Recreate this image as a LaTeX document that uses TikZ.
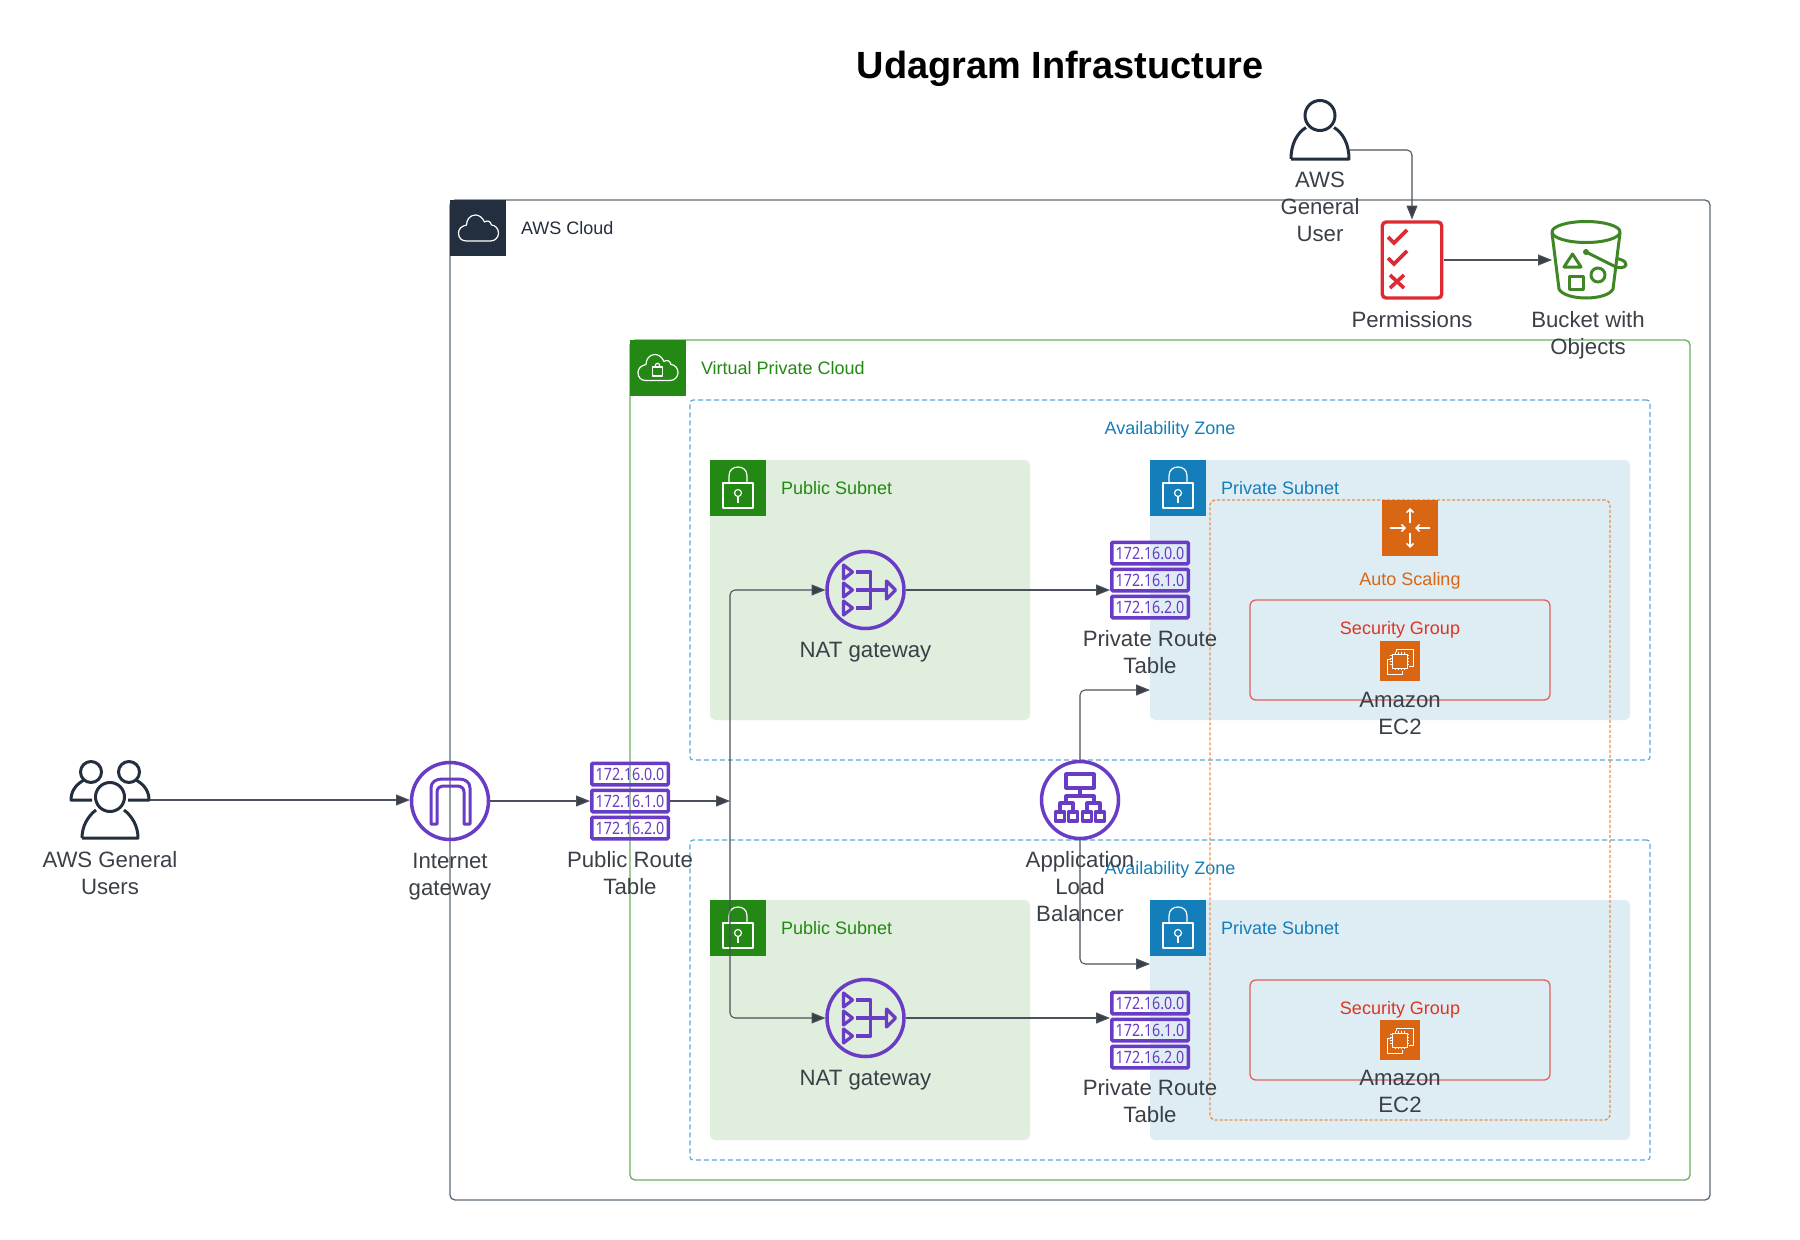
\documentclass[tikz,border=0pt]{standalone}
\usepackage{fontspec}
\usepackage{graphicx}
\setmainfont{Liberation Sans}
\newfontfamily\rtfont{Noto Sans}
\usetikzlibrary{arrows.meta,calc}
\definecolor{inkdark}{HTML}{232F3E}
\definecolor{labelgray}{HTML}{3B4048}
\definecolor{connline}{HTML}{4A515B}
\definecolor{awsline}{HTML}{5F6A76}
\definecolor{vpcline}{HTML}{6DB25F}
\definecolor{awsgreen}{HTML}{248814}
\definecolor{awsblue}{HTML}{147EBA}
\definecolor{azline}{HTML}{5AA9D6}
\definecolor{pubfill}{HTML}{E0EEDD}
\definecolor{privfill}{HTML}{DEECF4}
\definecolor{awsorange}{HTML}{D86613}
\definecolor{asline}{HTML}{E8904F}
\definecolor{sgline}{HTML}{E2625A}
\definecolor{sgtext}{HTML}{DD3522}
\definecolor{purp}{HTML}{693CC5}
\definecolor{permred}{HTML}{DD2A33}
\definecolor{bucketgreen}{HTML}{3F8624}
\tikzset{
  bigtext/.style={font=\fontsize{22.2}{27}\selectfont,text=labelgray,align=center,inner sep=0pt,outer sep=0pt,anchor=north},
  smalltext/.style={font=\fontsize{18}{21}\selectfont,inner sep=0pt,outer sep=0pt},
  conn/.style={draw=connline,line width=1.05pt,rounded corners=5pt,-{Triangle[length=14pt,width=11pt,fill=labelgray]}},
  boxnode/.style={inner sep=0pt,outer sep=0pt,anchor=north west},
  hdr/.style={boxnode,minimum width=56pt,minimum height=56pt},
  area/.style={inner sep=0pt,outer sep=0pt,minimum width=#1,minimum height=#1},
  subnetpub/.style={boxnode,fill=pubfill,rounded corners=5pt,minimum width=320pt},
  subnetpriv/.style={boxnode,fill=privfill,rounded corners=5pt,minimum width=480pt},
  azbox/.style={boxnode,draw=azline,line width=1.2pt,dash pattern=on 5pt off 3pt,rounded corners=3pt,minimum width=960pt},
  sgbox/.style={boxnode,draw=sgline,line width=1.3pt,rounded corners=6pt,minimum width=300pt,minimum height=100pt},
  rtbox/.style={draw=purp,line width=3.5pt,inner sep=0pt,outer sep=0pt,minimum width=76.5pt,minimum height=21.5pt,rounded corners=1pt,text=purp,font=\rtfont\fontsize{17}{17}\selectfont},
  purpicon/.style={draw=purp,line width=3.2pt,line join=round},
  awsround/.style={draw=purp,line width=3.5pt,circle,minimum size=77pt,inner sep=0pt,outer sep=1.5pt},
  whiteicon/.style={draw=white,line width=1.2pt,line join=round},
  whiteicont/.style={draw=white,line width=1pt,line join=round},
  person/.style={draw=inkdark,line width=3pt,line join=round},
  redicon/.style={draw=permred,line width=3.6pt,line join=miter},
  greenicon/.style={draw=bucketgreen,line width=3pt,line join=round},
}
\newcommand{\rtable}[3]{%
  \node[area=80pt] (#1) at (#2,#3) {};
  \node[rtbox] (#1a) at (#2,#3-27) {\scalebox{0.84}[1]{172.16.0.0}};
  \node[rtbox] (#1b) at (#2,#3) {\scalebox{0.84}[1]{172.16.1.0}};
  \node[rtbox] (#1c) at (#2,#3+27) {\scalebox{0.84}[1]{172.16.2.0}};
}
\newcommand{\lockicon}[2]{%
  \begin{scope}[shift={(#1,#2)}]
    \draw[whiteicon] (13,23) rectangle (43,48);
    \draw[whiteicon] (19,23) -- (19,16) .. controls (19,10) and (23,7) .. (28,7) .. controls (33,7) and (37,10) .. (37,16) -- (37,23);
    \draw[whiteicon] (28,33) circle (3.5);
    \draw[whiteicon] (28,36.5) -- (28,43);
  \end{scope}}
\newcommand{\cloudline}{(16,41) -- (40,41) .. controls (45,41) and (48,37) .. (48,33) .. controls (48,29) and (45,25) .. (41,25) .. controls (40,21) and (37,20) .. (34,22) .. controls (32,17) and (28,15) .. (25,15) .. controls (20,15) and (16,19) .. (16,25) .. controls (11,26) and (8,29) .. (8,33) .. controls (8,38) and (11,41) .. (16,41) -- cycle}
\newcommand{\ecicon}[3]{%
  \node[boxnode,fill=awsorange,minimum width=40pt,minimum height=40pt] (#1) at (#2,#3) {};
  \begin{scope}[shift={(#2,#3)}]
    \draw[whiteicont] (16,8) -- (33,8) -- (33,25) -- (29,25);
    \draw[whiteicont] (16,8) -- (16,11);
    \draw[whiteicont] (11,18) -- (7,18) -- (7,33) -- (22,33) -- (22,30);
    \draw[whiteicont] (12,13) rectangle (27,27);
    \foreach \t in {15,18,21,24}{
      \draw[draw=white,line width=.6pt] (\t,11) -- (\t,13);
      \draw[draw=white,line width=.6pt] (\t,27) -- (\t,29);
      \draw[draw=white,line width=.6pt] (10,\t-1) -- (12,\t-1);
      \draw[draw=white,line width=.6pt] (27,\t-1) -- (29,\t-1);}
  \end{scope}}
\newcommand{\naticon}[2]{%
  \begin{scope}[shift={(#1,#2)}]
    \draw[purpicon] (-22,-25) -- (-13,-18) -- (-22,-11) -- cycle;
    \draw[purpicon] (-22,-7) -- (-13,0) -- (-22,7) -- cycle;
    \draw[purpicon] (-22,11) -- (-13,18) -- (-22,25) -- cycle;
    \draw[purpicon] (21,-9) -- (30,0) -- (21,9) -- cycle;
    \draw[purpicon] (-10,-18) -- (5,-18) -- (5,18) -- (-10,18);
    \draw[purpicon] (-10,0) -- (21,0);
  \end{scope}}
\begin{document}
\begin{tikzpicture}[x=1pt,y=-1pt]
\useasboundingbox (0,0) rectangle (1800,1240);
\fill[white] (0,0) rectangle (1800,1240);

% containers
\node[boxnode,draw=awsline,line width=1.3pt,rounded corners=5pt,minimum width=1260pt,minimum height=1000pt] (aws) at (450,200) {};
\node[hdr,fill=inkdark] (awshdr) at (450,200) {};
\draw[whiteicon,shift={(450,200)},xshift=.5pt] \cloudline;
\node[smalltext,anchor=mid west,text=inkdark] (awstxt) at (521,232) {AWS Cloud};

\node[boxnode,draw=vpcline,line width=1.3pt,rounded corners=5pt,minimum width=1060pt,minimum height=840pt] (vpc) at (630,340) {};
\node[hdr,fill=awsgreen] (vpchdr) at (630,340) {};
\draw[whiteicon,shift={(630,339.5)}] \cloudline;
\draw[whiteicon] (652.5,367) rectangle (662.5,376);
\draw[whiteicon] (655,367) .. controls (655,362) and (660,362) .. (660,367);
\node[smalltext,anchor=mid west,text=awsgreen] (vpctxt) at (701,372) {Virtual Private Cloud};

\node[azbox,minimum height=360pt] (az1) at (690,400) {};
\node[smalltext,anchor=mid,text=awsblue] (az1txt) at (1170,432) {Availability Zone};
\node[azbox,minimum height=320pt] (az2) at (690,840) {};

\node[subnetpub,minimum height=260pt] (pub1) at (710,460) {};
\node[hdr,fill=awsgreen] (pub1hdr) at (710,460) {};
\lockicon{710}{460}
\node[smalltext,anchor=mid west,text=awsgreen] (pub1txt) at (781,492) {Public Subnet};

\node[subnetpriv,minimum height=260pt] (priv1) at (1150,460) {};
\node[hdr,fill=awsblue] (priv1hdr) at (1150,460) {};
\lockicon{1150}{460}
\node[smalltext,anchor=mid west,text=awsblue] (priv1txt) at (1221,492) {Private Subnet};

\node[subnetpub,minimum height=240pt] (pub2) at (710,900) {};
\node[hdr,fill=awsgreen] (pub2hdr) at (710,900) {};
\lockicon{710}{900}
\node[smalltext,anchor=mid west,text=awsgreen] (pub2txt) at (781,932) {Public Subnet};

\node[subnetpriv,minimum height=240pt] (priv2) at (1150,900) {};
\node[hdr,fill=awsblue] (priv2hdr) at (1150,900) {};
\lockicon{1150}{900}
\node[smalltext,anchor=mid west,text=awsblue] (priv2txt) at (1221,932) {Private Subnet};

\node[smalltext,anchor=mid,text=awsblue] (az2txt) at (1170,872) {Availability Zone};

% auto scaling group
\node[boxnode,draw=asline,line width=1.4pt,dash pattern=on 3pt off 2pt,rounded corners=5pt,minimum width=400pt,minimum height=620pt] (asg) at (1210,500) {};
\node[hdr,fill=awsorange] (asicon) at (1382,500) {};
\begin{scope}[shift={(1410,528)},line width=1.5pt,draw=white,>={Straight Barb[length=3.5pt,width=7pt]}]
  \draw[white,->] (0,-5) -- (0,-20);
  \draw[white,->] (0,5) -- (0,20);
  \draw[white,->] (-20,0) -- (-4,0);
  \draw[white,->] (20,0) -- (5,0);
\end{scope}
\node[smalltext,anchor=mid,text=awsorange] (astxt) at (1410,583) {Auto Scaling};

% security groups
\node[sgbox] (sg1) at (1250,600) {};
\node[smalltext,anchor=mid,text=sgtext] (sg1txt) at (1400,632) {Security Group};
\ecicon{ec1}{1380}{641}
\node[bigtext] (ec1txt) at (1400,688.5) {\strut Amazon\\\strut EC2};
\node[sgbox] (sg2) at (1250,980) {};
\node[smalltext,anchor=mid,text=sgtext] (sg2txt) at (1400,1012) {Security Group};
\ecicon{ec2}{1380}{1020}
\node[bigtext] (ec2txt) at (1400,1066.5) {\strut Amazon\\\strut EC2};

% title
\node[inner sep=0pt,font=\fontsize{37.9}{40}\selectfont\bfseries,anchor=mid,text=black] (title) at (1060,76) {Udagram Infrastucture};

% users
\node[area=80pt] (users) at (110,800) {};
\draw[person] (91,772) circle (10.5);
\draw[person] (129,772) circle (10.5);
\draw[person] (92,800) -- (71,800) .. controls (71,792) and (75,785) .. (84,780);
\draw[person] (128,800) -- (149,800) .. controls (149,792) and (145,785) .. (136,780);
\draw[person] (110,797) circle (14.5);
\draw[person] (82,838) -- (138,838) .. controls (138,826) and (132,816) .. (124,810);
\draw[person] (82,838) .. controls (82,826) and (88,816) .. (96,810);
\node[bigtext] (userstxt) at (110,849) {\strut AWS General\\\strut Users};

% general user
\node[area=60pt] (guser) at (1320,130) {};
\coordinate (guserout) at (1350,150);
\draw[person] (1320,115.5) circle (15);
\draw[person] (1291,159) -- (1349,159) .. controls (1349,144) and (1343,133) .. (1334,127.5);
\draw[person] (1291,159) .. controls (1291,144) and (1297,133) .. (1306,127.5);
\node[bigtext] (gusertxt) at (1320,168.5) {\strut AWS\\\strut General\\\strut User};

% internet gateway
\node[awsround] (igw) at (450,801) {};
\draw[purpicon,line width=3pt] (431,824) -- (431,788) .. controls (431,782) and (436,779) .. (442,779) -- (459,779) .. controls (465,779) and (470,782) .. (470,788) -- (470,824) -- (464,824) -- (464,792) .. controls (464,788) and (461,786) .. (457,786) -- (444,786) .. controls (440,786) and (437,788) .. (437,792) -- (437,824) -- cycle;
\node[bigtext] (igwtxt) at (450,850) {\strut Internet\\\strut gateway};

% public route table
\rtable{pubrt}{630}{801}
\node[bigtext] (pubrttxt) at (630,849) {\strut Public Route\\\strut Table};

% NAT gateways
\node[awsround] (nat1) at (865.5,590) {};
\naticon{865.5}{590}
\node[bigtext] (nat1txt) at (865.5,639) {\strut NAT gateway};
\node[awsround] (nat2) at (865.5,1018) {};
\naticon{865.5}{1018}
\node[bigtext] (nat2txt) at (865.5,1066.5) {\strut NAT gateway};

% private route tables
\rtable{prt1}{1150}{580}
\node[bigtext] (prt1txt) at (1150,628) {\strut Private Route\\\strut Table};
\rtable{prt2}{1150}{1030}
\node[bigtext] (prt2txt) at (1150,1077) {\strut Private Route\\\strut Table};

% load balancer
\node[awsround] (alb) at (1080,800) {};
\begin{scope}[shift={(1080,800)}]
  \draw[purpicon] (-14,-26) rectangle (14,-12);
  \draw[purpicon] (0,-12) -- (0,-4);
  \draw[purpicon] (-14,3) -- (-14,-4) -- (14,-4) -- (14,3);
  \draw[purpicon] (-20,12) -- (-20,3) -- (-7,3) -- (-7,12);
  \draw[purpicon] (7,12) -- (7,3) -- (20,3) -- (20,12);
  \draw[purpicon] (-24.5,12) rectangle (-15.5,21);
  \draw[purpicon] (-11.5,12) rectangle (-2.5,21);
  \draw[purpicon] (2.5,12) rectangle (11.5,21);
  \draw[purpicon] (15.5,12) rectangle (24.5,21);
\end{scope}
\node[bigtext] (albtxt) at (1080,848.5) {\strut Application\\\strut Load\\\strut Balancer};

% permissions
\node[boxnode,draw=permred,line width=3.4pt,rounded corners=4pt,minimum width=59.5pt,minimum height=76pt,outer sep=2.5pt,anchor=center] (perm) at (1412,260) {};
\draw[redicon] (1388,237) -- (1394,243) -- (1407,230);
\draw[redicon] (1388,258) -- (1394,264) -- (1407,251);
\draw[redicon] (1390,275) -- (1404,288);
\draw[redicon] (1404,275) -- (1390,288);
\node[bigtext] (permtxt) at (1412,308.5) {\strut Permissions};

% bucket
\node[inner sep=0pt,outer sep=0pt,minimum width=70pt,minimum height=78pt] (bucket) at (1587,260) {};
\draw[greenicon] (1586,232) ellipse (34 and 10.5);
\draw[greenicon] (1552,233) -- (1559,289) .. controls (1562,295) and (1574,298) .. (1586,298) .. controls (1598,298) and (1610,295) .. (1613,289) -- (1620,233);
\draw[greenicon] (1564,267) -- (1581,267) -- (1572.5,254) -- cycle;
\draw[greenicon] (1569,276) rectangle (1583,289);
\draw[greenicon] (1598,275) circle (7);
\fill[bucketgreen] (1586,252) circle (3);
\draw[greenicon] (1586,252) -- (1616,267) .. controls (1624,269) and (1628,266) .. (1625,262) .. controls (1623,260) and (1619,259) .. (1616,258);
\node[bigtext] (buckettxt) at (1588,308.5) {\strut Bucket with\\\strut Objects};

% connectors
\coordinate (junction) at (730,801);
\coordinate (albup) at (1150,690);
\coordinate (albdown) at (1150,964);
\draw[conn] (users.east) -- (igw.west |- users.east);
\draw[conn] (igw.east) -- (pubrt.west);
\draw[conn] (pubrt.east) -- (junction);
\draw[conn] (junction) |- (nat1.west);
\draw[conn] (junction) |- (nat2.west);
\draw[conn] (nat1.east) -- (nat1.east -| prt1.west);
\draw[conn] (nat2.east) -- (nat2.east -| prt2.west);
\draw[conn] (alb.north) |- (albup);
\draw[conn] (alb.south) |- (albdown);
\draw[conn] (guserout) -| (perm.north);
\draw[conn] (perm.east) -- (bucket.west);
\end{tikzpicture}
\end{document}
